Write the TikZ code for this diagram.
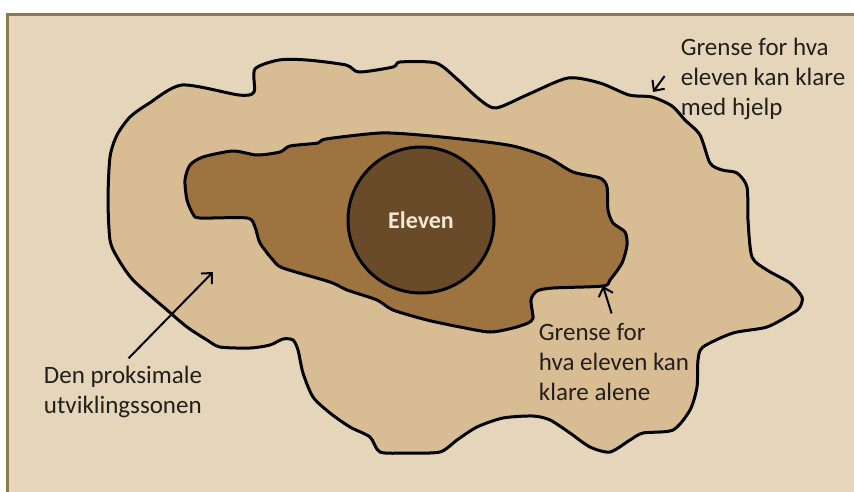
\documentclass[tikz,border=0pt]{standalone}
\usepackage{fontspec}
\setmainfont{Carlito}
\usepackage{tikz}
\usetikzlibrary{arrows.meta,positioning}
\definecolor{paper}{HTML}{E5D5BA}
\definecolor{framebrown}{HTML}{8B7A4F}
\definecolor{zonetan}{HTML}{D8BC94}
\definecolor{corebrown}{HTML}{9D7340}
\definecolor{learnerbrown}{HTML}{6A4B29}
\definecolor{ink}{HTML}{231F1A}
\definecolor{cream}{HTML}{F2E8D5}
\tikzset{
  frame/.style={draw=framebrown, line width=3pt, fill=paper},
  zone/.style={draw=black, line width=3pt, line join=round, fill=zonetan},
  core/.style={draw=black, line width=3pt, line join=round, fill=corebrown},
  learner/.style={circle, draw=black, line width=3pt, fill=learnerbrown, minimum size=146pt, text=cream, font=\fontsize{24}{28}\selectfont\bfseries},
  note/.style={align=left, text=ink, inner sep=2pt, font=\fontsize{25}{30}\selectfont},
  pointer/.style={-{Straight Barb[length=8pt,width=15pt]}, line width=2pt, black}
}

\begin{document}
\begin{tikzpicture}[x=1pt,y=-1pt]
  \useasboundingbox (0,0) rectangle (854,491);
  \fill[white] (0,0) rectangle (854,491);
  \draw[frame] (7,14) rectangle (880,520);

  % zone of proximal development
  \draw[zone] plot[smooth cycle, tension=0.45] coordinates {
    (108,200) (110,157) (117,135) (130,117) (148,104) (182,85) (239,95) (254,92)
    (255,69) (279,60) (307,60) (346,65) (359,72) (393,67) (400,62) (436,63)
    (457,79) (479,99) (496,108) (529,94) (568,78) (600,83) (629,95) (652,97)
    (672,106) (685,120) (700,135) (710,163) (722,170) (737,173) (747,187) (748,220)
    (752,257) (767,270) (790,283) (802,297) (800,307) (793,313) (767,327) (733,333)
    (703,347) (698,360) (697,387) (690,410) (673,430) (643,433) (630,440) (610,452)
    (590,447) (570,433) (550,420) (533,416) (503,418) (477,427) (457,440) (440,452)
    (407,453) (380,452) (370,437) (350,427) (330,413) (313,397) (303,373) (298,350)
    (293,340) (283,339) (270,345) (250,348) (220,347) (207,340) (187,327) (167,310)
    (133,280) (117,257) (110,240)};

  % what the learner manages alone
  \draw[core] plot[smooth cycle, tension=0.45] coordinates {
    (185,180) (190,165) (203,157) (233,151) (257,155) (280,152) (290,146) (318,143)
    (326,139) (380,133) (420,135) (470,140) (513,146) (547,157) (573,172) (600,178)
    (607,187) (608,210) (613,223) (625,232) (627,245) (622,263) (610,280) (603,286)
    (553,288) (537,291) (531,300) (533,318) (528,323) (513,328) (490,332) (460,327)
    (427,320) (393,310) (377,300) (347,290) (330,282) (283,268) (273,260) (260,243)
    (255,227) (247,218) (200,218) (193,214) (187,200)};

  \node[learner] (eleven) at (421,220) {Eleven};

  \node[note] (helplabel) at (763,79) {Grense for hva\\eleven kan klare\\med hjelp};
  \node[note] (alonelabel) at (614,362) {Grense for\\hva eleven kan\\klare alene};
  \node[note] (zonelabel) at (123,392) {Den proksimale\\utviklingssonen};

  \coordinate (helptip) at (653,92);
  \coordinate (helptail) at ([shift={(-14,-3)}]helplabel.west);
  \coordinate (alonetip) at (603,286);
  \coordinate (zonetip) at (213,272);

  \draw[pointer] (helptail) -- (helptip);
  \draw[pointer, shorten <=8pt] (alonelabel.north) -- (alonetip);
  \draw[pointer, shorten <=8pt] (zonelabel.north) -- (zonetip);
\end{tikzpicture}
\end{document}
